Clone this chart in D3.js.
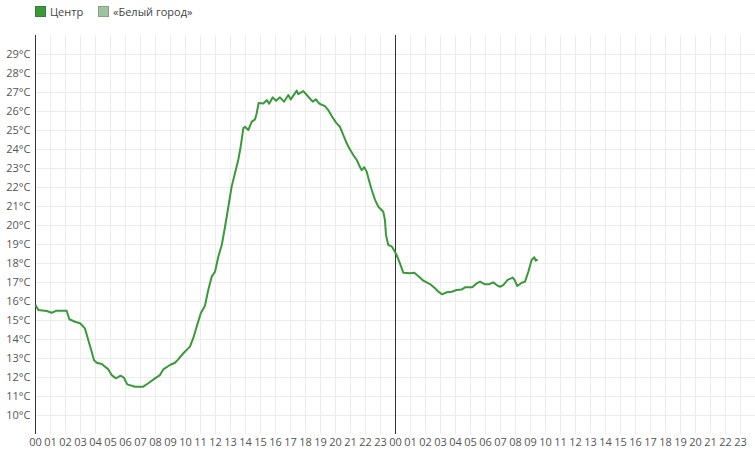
<!DOCTYPE html>
<html>
<head>
<meta charset="utf-8">
<script src="https://cdn.jsdelivr.net/npm/d3@7"></script>
<style>
html,body{margin:0;padding:0;background:#fff;}
svg{display:block;font-family:"Open Sans","Noto Sans",sans-serif;}
</style>
</head>
<body>
<svg id="chart" width="755" height="451"></svg>
<script>
// Series names
const seriesNames = ["Центр", "«Белый город»"];
const seriesColors = ["#3a9a3a", "#9fc29f"];
// Hours since 00:00 of day 1
const hours = [0.03,0.22,0.78,1.11,1.45,2.11,2.29,2.67,3.0,3.33,3.55,3.78,3.93,4.11,4.45,4.89,5.11,5.4,5.71,5.93,6.15,6.67,7.22,7.55,8.0,8.33,8.55,9.0,9.33,9.55,9.89,10.33,10.55,10.78,11.05,11.33,11.55,11.78,12.0,12.22,12.45,12.67,12.89,13.11,13.33,13.55,13.71,13.89,14.0,14.22,14.45,14.67,14.78,14.91,15.22,15.45,15.61,15.85,16.07,16.33,16.6,16.89,17.05,17.45,17.55,17.89,18.22,18.51,18.73,18.89,19.0,19.33,19.55,19.78,20.07,20.33,20.55,20.78,20.95,21.22,21.45,21.71,21.78,21.95,22.11,22.29,22.45,22.67,22.89,23.22,23.33,23.4,23.55,23.8,24.11,24.33,24.55,25.0,25.29,25.55,25.89,26.33,26.67,26.89,27.15,27.45,27.78,28.11,28.45,28.67,29.15,29.45,29.67,30.0,30.27,30.55,30.78,31.0,31.22,31.51,31.85,31.97,32.15,32.45,32.67,32.89,33.11,33.29,33.38,33.51];
// Temperature, °C (Центр)
const tempCenter = [15.79,15.53,15.47,15.38,15.49,15.49,15.04,14.91,14.83,14.56,13.95,13.33,12.89,12.75,12.68,12.4,12.1,11.93,12.07,11.96,11.61,11.49,11.49,11.67,11.93,12.1,12.4,12.63,12.75,12.93,13.25,13.6,14.04,14.65,15.35,15.75,16.58,17.28,17.54,18.33,18.95,19.91,20.96,22.02,22.72,23.42,24.12,25.09,25.17,25.0,25.44,25.56,25.88,26.42,26.4,26.57,26.38,26.72,26.54,26.72,26.49,26.84,26.61,27.07,26.89,27.05,26.75,26.49,26.61,26.44,26.37,26.26,26.05,25.74,25.39,25.17,24.74,24.3,24.04,23.68,23.42,22.98,22.89,23.04,22.81,22.28,21.84,21.32,20.96,20.7,20.26,19.47,18.95,18.86,18.42,17.98,17.49,17.46,17.49,17.32,17.07,16.89,16.67,16.49,16.35,16.46,16.49,16.58,16.61,16.72,16.72,16.93,17.02,16.88,16.88,16.98,16.84,16.75,16.84,17.11,17.23,17.11,16.79,16.96,17.02,17.54,18.16,18.3,18.12,18.19];
// Axis ticks
const yTicks = [10,11,12,13,14,15,16,17,18,19,20,21,22,23,24,25,26,27,28,29];
const xTicks = d3.range(0, 48);
const dayBoundaries = [24];

const svg = d3.select("#chart");
const x = d3.scaleLinear().domain([0, 48]).range([35, 755]);
const y = d3.scaleLinear().domain([9, 30]).range([434, 35]);

// Grid
const grid = svg.append("g").attr("stroke", "#ececec").attr("stroke-width", 1).attr("shape-rendering", "crispEdges");
grid.selectAll("line.v").data(xTicks.slice(1).concat([48])).join("line")
  .attr("x1", d => Math.round(x(d)) + 0.5).attr("x2", d => Math.round(x(d)) + 0.5)
  .attr("y1", 35).attr("y2", 434);
grid.selectAll("line.h").data(yTicks).join("line")
  .attr("x1", 35).attr("x2", 755)
  .attr("y1", d => Math.round(y(d)) + 0.5).attr("y2", d => Math.round(y(d)) + 0.5);

// Y axis
const yAxis = svg.append("g").attr("transform", "translate(35.5,0)")
  .call(d3.axisLeft(y).tickValues(yTicks).tickSize(0).tickPadding(5).tickFormat(d => d + "°C"));
yAxis.select(".domain").remove();
yAxis.selectAll("text").attr("fill", "#555").style("font-size", "11px").style("font-family", "'Open Sans','Noto Sans',sans-serif");

// X axis
const xAxis = svg.append("g").attr("transform", "translate(0,434)")
  .call(d3.axisBottom(x).tickValues(xTicks).tickSize(0).tickPadding(4).tickFormat(d => String(d % 24).padStart(2, "0")));
xAxis.select(".domain").remove();
xAxis.selectAll("text").attr("fill", "#555").style("font-size", "11px").style("font-family", "'Open Sans','Noto Sans',sans-serif");

// Axis line
svg.append("line").attr("x1", 35.5).attr("x2", 35.5).attr("y1", 35).attr("y2", 434)
  .attr("stroke", "#333").attr("stroke-width", 1);

// Day boundaries
svg.selectAll("line.day").data(dayBoundaries).join("line")
  .attr("x1", d => Math.round(x(d)) + 0.5).attr("x2", d => Math.round(x(d)) + 0.5)
  .attr("y1", 35).attr("y2", 434).attr("stroke", "#333").attr("stroke-width", 1);

// Line
const pts = hours.map((h, i) => [h, tempCenter[i]]);
svg.append("path").datum(pts)
  .attr("fill", "none").attr("stroke", seriesColors[0]).attr("stroke-width", 2)
  .attr("stroke-linejoin", "round")
  .attr("d", d3.line().x(d => x(d[0])).y(d => y(d[1])));

// Legend
const legendX = [35, 98];
const leg = svg.append("g");
seriesNames.forEach((name, i) => {
  leg.append("rect").attr("x", legendX[i] + 0.5).attr("y", 6.5).attr("width", 10).attr("height", 10)
    .attr("fill", seriesColors[i]).attr("stroke", d3.color(seriesColors[i]).darker(0.5)).attr("stroke-width", 1);
  leg.append("text").attr("x", legendX[i] + 15).attr("y", 15.5).text(name)
    .attr("fill", "#444").style("font-size", "11px");
});
</script>
</body>
</html>
